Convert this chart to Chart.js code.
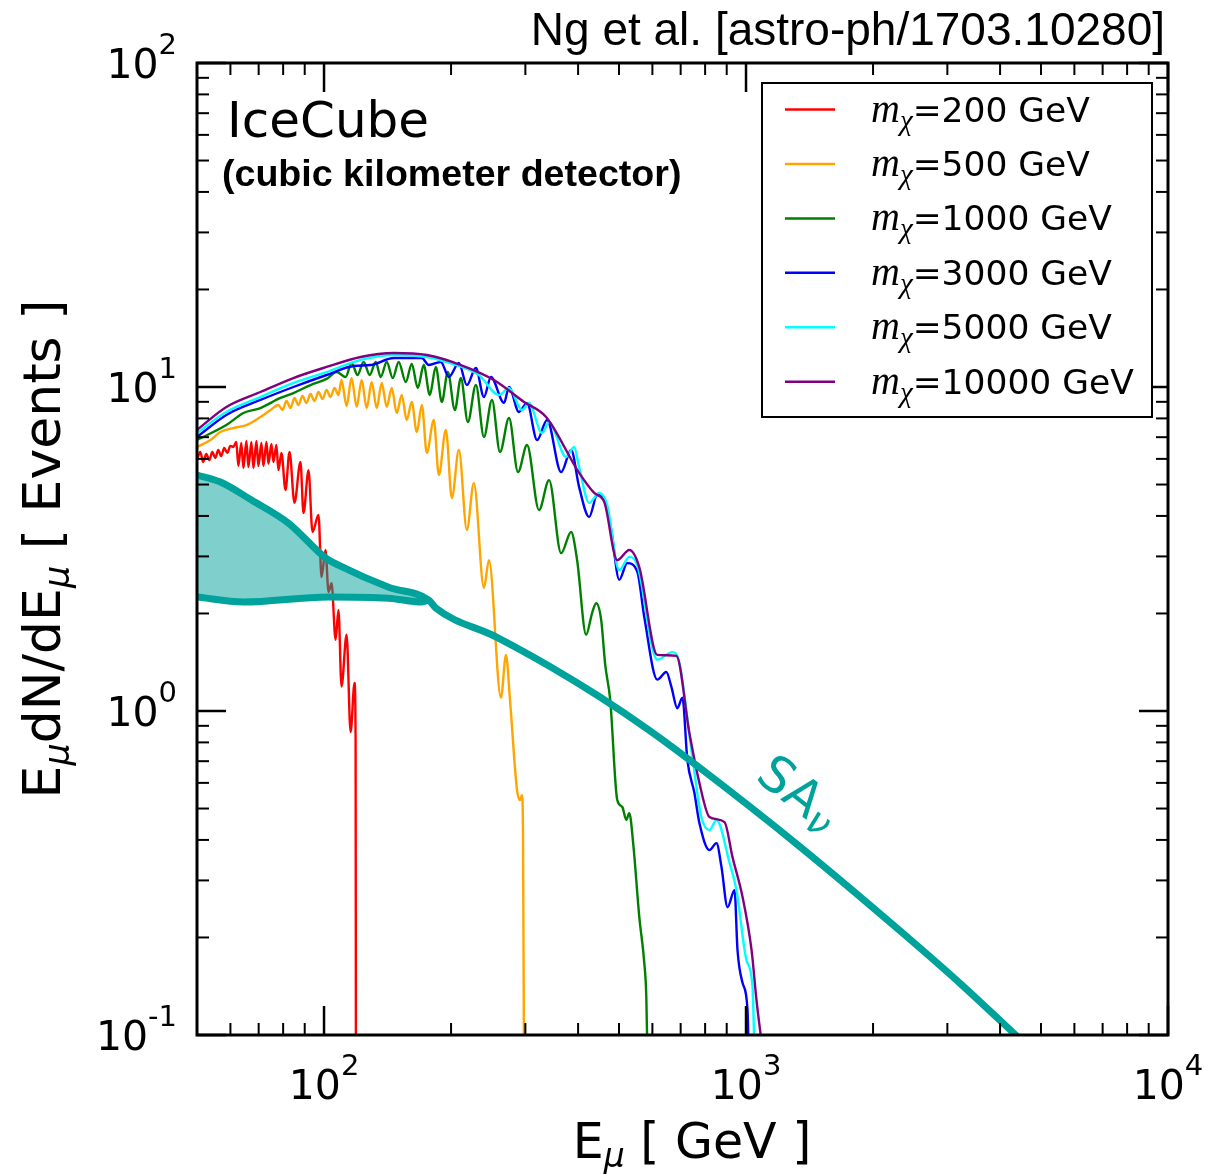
<!DOCTYPE html>
<html>
<head>
<meta charset="utf-8">
<script src="https://cdn.jsdelivr.net/npm/chart.js@4.4.1/dist/chart.umd.min.js"></script>
<style>
  html, body { margin: 0; padding: 0; background: #fff; }
</style>
</head>
<body>
<canvas id="espectro" width="1209" height="1174"></canvas>
<script>
// values (E_mu in GeV, E dN/dE in events)
const masas = ['200', '500', '1000', '3000', '5000', '10000'];

const e200 = [50, 50.9, 51.7, 52.6, 53.5, 54.35, 55.25, 56.15, 57.07, 58.0, 59.0, 59.96, 60.95, 61.97, 62.65, 63.68, 64.4, 65.46, 66.2, 67.28, 68.02, 69.15, 69.9, 71.05, 71.84, 73.03, 73.83, 75.05, 75.86, 77.1, 77.97, 79.27, 81.04, 82.84, 85.1, 87.93, 89.4, 91.88, 93.9, 97.03, 98.64, 100.8, 102.5, 104.2, 106.5, 108.2, 110.0, 113.1, 115.6, 118.1, 118.8, 119.0];
const n200 = [5.95, 6.30, 5.87, 6.21, 5.95, 6.30, 6.04, 6.39, 6.12, 6.48, 6.26, 6.58, 6.53, 6.77, 5.70, 6.72, 5.62, 6.81, 5.66, 6.77, 5.62, 6.81, 5.70, 6.72, 5.70, 6.77, 5.79, 6.67, 5.87, 6.62, 5.54, 6.26, 4.81, 6.30, 4.39, 5.87, 4.08, 5.54, 3.57, 4.03, 2.59, 3.14, 2.33, 2.48, 1.66, 2.05, 1.19, 1.72, 0.861, 1.22, 0.814, 0.09];

const e500 = [50, 53.8, 56.76, 60.95, 65.46, 70.67, 74.64, 77.97, 79.7, 81.48, 83.3, 85.1, 86.97, 88.9, 90.87, 92.88, 94.93, 97.03, 99.2, 101.4, 103.6, 105.9, 108.2, 110.0, 113.1, 116.2, 119.5, 122.8, 126.2, 129.7, 133.3, 137.0, 140.8, 144.7, 148.7, 152.8, 157.0, 161.4, 165.9, 170.5, 175.2, 182.0, 187.1, 194.4, 200.9, 208.7, 218.0, 226.5, 239.3, 245.9, 262.6, 269.9, 275.9, 286.6, 291.3, 294.5, 296.1, 297.7];
const n500 = [6.53, 6.86, 7.26, 7.47, 7.63, 8.08, 8.49, 8.80, 8.49, 9.05, 8.61, 9.25, 8.80, 9.38, 8.93, 9.51, 9.05, 9.65, 9.18, 9.79, 9.31, 9.93, 9.45, 10.51, 8.74, 10.66, 8.68, 10.51, 8.61, 10.36, 8.61, 10.29, 8.68, 9.93, 8.31, 9.45, 7.91, 8.99, 7.26, 8.80, 6.26, 7.91, 5.35, 7.37, 4.54, 6.39, 3.62, 5.05, 2.40, 2.92, 1.10, 1.49, 1.08, 0.571, 0.531, 0.550, 0.429, 0.09];

const e1000 = [50, 58.67, 64.4, 70.67, 78.83, 84.63, 92.88, 101.4, 107.1, 112.5, 116.2, 120.1, 124.1, 128.3, 132.6, 136.2, 140.8, 145.5, 150.3, 156.2, 161.4, 166.8, 172.3, 178.1, 184.0, 190.2, 196.5, 204.2, 211.0, 219.2, 229.0, 239.3, 250.0, 261.2, 274.4, 288.2, 302.7, 323.2, 341.4, 364.6, 385.1, 397.9, 418.0, 431.9, 441.5, 453.7, 463.8, 476.7, 495.3, 509.0, 520.3, 528.9, 540.6, 558.5, 574.0, 580.4, 583.6];
const n1000 = [6.86, 7.63, 8.31, 8.61, 9.25, 9.58, 10.14, 10.59, 11.12, 10.74, 11.86, 10.89, 11.95, 10.89, 11.95, 10.74, 11.95, 10.66, 11.95, 10.36, 11.78, 9.93, 11.69, 9.45, 11.53, 8.99, 11.12, 8.49, 10.66, 7.80, 10.14, 7.01, 9.12, 6.30, 8.02, 5.46, 6.62, 4.17, 5.16, 3.07, 3.57, 2.92, 1.72, 2.01, 2.15, 1.91, 1.39, 1.08, 0.531, 0.506, 0.461, 0.484, 0.387, 0.232, 0.167, 0.131, 0.09];

const e3000 = [50, 58.67, 70.67, 84.63, 101.4, 117.5, 129.0, 146.3, 170.5, 177.1, 189.2, 197.6, 208.7, 218.0, 229.0, 239.3, 248.6, 267.0, 274.4, 289.7, 302.7, 319.8, 337.7, 364.6, 385.1, 402.3, 424.9, 443.9, 461.3, 479.3, 500.7, 523.1, 552.6, 574.0, 616.3, 647.4, 665.3, 687.6, 706.7, 726.2, 754.6, 775.4, 819.2, 851.1, 874.7, 904.1, 939.2, 954.6, 981.1, 1008.3, 1014];
const n3000 = [7.01, 8.20, 9.12, 10.0, 10.89, 11.61, 11.69, 12.29, 12.29, 11.69, 11.95, 10.74, 11.86, 10.14, 11.44, 9.31, 10.74, 8.93, 10.0, 8.37, 8.93, 6.86, 7.91, 5.46, 6.39, 4.91, 3.97, 4.64, 4.48, 3.62, 2.54, 2.86, 2.69, 1.95, 1.25, 1.32, 1.19, 1.02, 1.10, 0.706, 0.558, 0.451, 0.372, 0.391, 0.330, 0.248, 0.280, 0.183, 0.145, 0.1195, 0.09];

const e5000 = [50, 58.67, 70.67, 84.63, 101.4, 122.1, 146.3, 175.2, 194.4, 232.8, 259.7, 274.4, 294.5, 306.0, 328.6, 341.4, 374.7, 391.5, 402.3, 424.9, 448.8, 468.9, 500.7, 528.9, 552.6, 616.3, 669.0, 695.0, 746.3, 783.9, 819.2, 851.1, 914.0, 949.3, 1002.8, 1036.1, 1047];
const n5000 = [7.21, 8.37, 9.31, 10.29, 11.12, 12.12, 12.56, 12.38, 11.95, 10.89, 9.45, 9.93, 8.49, 8.93, 7.21, 7.80, 6.08, 6.53, 5.66, 4.39, 4.71, 4.32, 2.72, 2.99, 2.82, 1.44, 1.52, 1.41, 0.721, 0.471, 0.429, 0.461, 0.340, 0.280, 0.170, 0.141, 0.09];

const e10000 = [50, 58.7, 70.7, 84.6, 101.4, 122.1, 146.3, 175.2, 211.0, 252.7, 297.8, 335.9, 402.3, 436.7, 461.3, 495.3, 528.9, 558.5, 616.3, 683.8, 734.2, 775.4, 819.2, 889.3, 928.9, 981.1, 1030.6, 1059.0, 1094.5];
const n10000 = [7.37, 8.68, 9.65, 10.66, 11.53, 12.38, 12.73, 12.55, 11.69, 10.51, 8.99, 8.08, 5.43, 4.71, 4.42, 2.92, 3.14, 2.78, 1.49, 1.48, 0.855, 0.60, 0.471, 0.454, 0.354, 0.267, 0.183, 0.128, 0.09];

// SA nu background: upper edge (continues alone) and lower edge of the band
const eSA = [50, 56.8, 67.3, 82.4, 100.8, 108.2, 142.3, 177.1, 184.0, 255.5, 341.4, 448.8, 590.0, 775.4, 1340, 2315, 3215, 4343, 5117];
const nSA = [5.35, 5.09, 4.48, 3.80, 2.97, 2.82, 2.41, 2.20, 2.08, 1.694, 1.377, 1.108, 0.871, 0.669, 0.382, 0.210, 0.1444, 0.1003, 0.0819];
const eSAbajo = [50, 64.4, 102.5, 142.3, 170.5, 177.1];
const nSAbajo = [2.25, 2.17, 2.25, 2.23, 2.17, 2.20];

const expX = [2, 3, 4];
const expY = [-1, 0, 1, 2];

const colores = ['#ff0000', '#ffa500', '#008000', '#0000ff', '#00ffff', '#800080'];
const teal = '#00a29c';

function puntos(xs, ys) {
  return xs.map((x, i) => ({ x: x, y: ys[i] }));
}

const series = [
  [e200, n200], [e500, n500], [e1000, n1000],
  [e3000, n3000], [e5000, n5000], [e10000, n10000]
];

const datasets = [
  { label: 'SAnu', data: puntos(eSA, nSA), borderColor: teal, borderWidth: 7, fill: false, order: 0 },
  { label: 'SAnu band', data: puntos(eSAbajo, nSAbajo), borderColor: teal, borderWidth: 7,
    fill: '-1', backgroundColor: 'rgba(0,162,156,0.5)', order: 0 }
];
series.forEach((s, i) => {
  datasets.push({
    label: 'm_chi=' + masas[i] + ' GeV',
    data: puntos(s[0], s[1]),
    borderColor: colores[i],
    borderWidth: 2.4,
    fill: false,
    order: 6 - i
  });
});

// draws consecutive text pieces: [text, font, dy]
function trozos(ctx, partes, x, y, align) {
  let w = 0;
  partes.forEach(p => { ctx.font = p[1]; p.w = ctx.measureText(p[0]).width; w += p.w; });
  let cx = align === 'center' ? x - w / 2 : (align === 'right' ? x - w : x);
  ctx.textAlign = 'left';
  ctx.textBaseline = 'alphabetic';
  partes.forEach(p => { ctx.font = p[1]; ctx.fillText(p[0], cx, y + (p[2] || 0)); cx += p.w; });
}

const sans = '"DejaVu Sans"';

const decor = {
  id: 'decor',
  beforeDraw(chart) {
    const ctx = chart.ctx;
    ctx.save();
    ctx.fillStyle = '#fff';
    ctx.fillRect(0, 0, chart.width, chart.height);
    ctx.restore();
  },
  afterDraw(chart) {
    const ctx = chart.ctx;
    const a = chart.chartArea;
    const sx = chart.scales.x, sy = chart.scales.y;
    ctx.save();
    ctx.strokeStyle = '#000';
    ctx.lineCap = 'butt';

    // inward ticks on the four sides
    function raya(x1, y1, x2, y2) { ctx.beginPath(); ctx.moveTo(x1, y1); ctx.lineTo(x2, y2); ctx.stroke(); }
    for (let d = 1; d <= 4; d++) {
      for (let m = 1; m <= 9; m++) {
        const v = m * Math.pow(10, d);
        if (v < 50 || v > 10000) continue;
        const px = sx.getPixelForValue(v);
        const len = m === 1 ? 29 : 12;
        ctx.lineWidth = m === 1 ? 2.5 : 2;
        raya(px, a.bottom, px, a.bottom - len);
        raya(px, a.top, px, a.top + len);
      }
    }
    for (let d = -1; d <= 2; d++) {
      for (let m = 1; m <= 9; m++) {
        const v = m * Math.pow(10, d);
        if (v < 0.1 || v > 100) continue;
        const py = sy.getPixelForValue(v);
        const len = m === 1 ? 29 : 12;
        ctx.lineWidth = m === 1 ? 2.5 : 2;
        raya(a.left, py, a.left + len, py);
        raya(a.right, py, a.right - len, py);
      }
    }
    ctx.lineWidth = 3;
    ctx.strokeRect(a.left, a.top, a.right - a.left, a.bottom - a.top);

    // tick labels
    ctx.fillStyle = '#000';
    expX.forEach(e => {
      const px = sx.getPixelForValue(Math.pow(10, e));
      trozos(ctx, [['10', '41px ' + sans], [String(e), '29px ' + sans, -24]], px, a.bottom + 64, 'center');
    });
    expY.forEach(e => {
      const py = sy.getPixelForValue(Math.pow(10, e));
      trozos(ctx, [['10', '41px ' + sans], [String(e), '29px ' + sans, -24]], a.left - 20, py + 15, 'right');
    });

    // axis titles
    trozos(ctx, [['E', '49px ' + sans], ['\u03bc', 'italic 33px ' + sans, 9], [' [ GeV ]', '49px ' + sans]],
      692, 1158, 'center');
    ctx.save();
    ctx.translate(60, (a.top + a.bottom) / 2);
    ctx.rotate(-Math.PI / 2);
    trozos(ctx, [['E', '52px ' + sans], ['\u03bc', 'italic 35px ' + sans, 9], ['dN/dE', '52px ' + sans],
      ['\u03bc', 'italic 35px ' + sans, 9], [' [ Events ]', '52px ' + sans]], 0, 0, 'center');
    ctx.restore();

    // top right reference
    ctx.font = '46px "Liberation Sans"';
    ctx.textAlign = 'right';
    ctx.fillText('Ng et al. [astro-ph/1703.10280]', 1165, 45);

    // detector label
    ctx.textAlign = 'left';
    ctx.font = '50px ' + sans;
    ctx.fillText('IceCube', 227, 137);
    ctx.font = 'bold 37.6px "Liberation Sans"';
    ctx.fillText('(cubic kilometer detector)', 222, 186);

    // SA nu label along the line
    ctx.save();
    ctx.translate(754, 779);
    ctx.rotate(38 * Math.PI / 180);
    ctx.fillStyle = teal;
    trozos(ctx, [['SA', '50px ' + sans], ['\u03bd', 'italic 38px ' + sans, 7]], 0, 0, 'left');
    ctx.restore();

    // legend
    const lx = 762, ly = 83, lw = 390, lh = 334;
    ctx.fillStyle = '#fff';
    ctx.fillRect(lx, ly, lw, lh);
    ctx.lineWidth = 2;
    ctx.strokeStyle = '#000';
    ctx.strokeRect(lx, ly, lw, lh);
    masas.forEach((m, i) => {
      const yy = 109.5 + i * 54.45;
      ctx.strokeStyle = colores[i];
      ctx.lineWidth = 2.5;
      raya(785, yy, 835, yy);
      ctx.fillStyle = '#000';
      trozos(ctx, [['m', 'italic 40px "Liberation Serif"', 0], ['\u03c7', 'italic 29px "Liberation Serif"', 8],
        ['=' + m + ' GeV', '34.5px ' + sans, 0]], 871, yy + 12, 'left');
    });

    ctx.restore();
  }
};

new Chart(document.getElementById('espectro'), {
  type: 'line',
  data: { datasets: datasets },
  options: {
    responsive: false,
    devicePixelRatio: 1,
    animation: false,
    layout: { padding: { top: 63, right: 41, left: 0, bottom: 0 } },
    elements: {
      point: { radius: 0 },
      line: { cubicInterpolationMode: 'monotone', borderJoinStyle: 'round' }
    },
    scales: {
      x: {
        type: 'logarithmic', min: 50, max: 10000,
        grid: { display: false }, border: { display: false }, ticks: { display: false },
        afterFit: s => { s.height = 139; }
      },
      y: {
        type: 'logarithmic', min: 0.1, max: 100,
        grid: { display: false }, border: { display: false }, ticks: { display: false },
        afterFit: s => { s.width = 197; }
      }
    },
    plugins: {
      legend: { display: false },
      tooltip: { enabled: false }
    }
  },
  plugins: [decor]
});
</script>
</body>
</html>
